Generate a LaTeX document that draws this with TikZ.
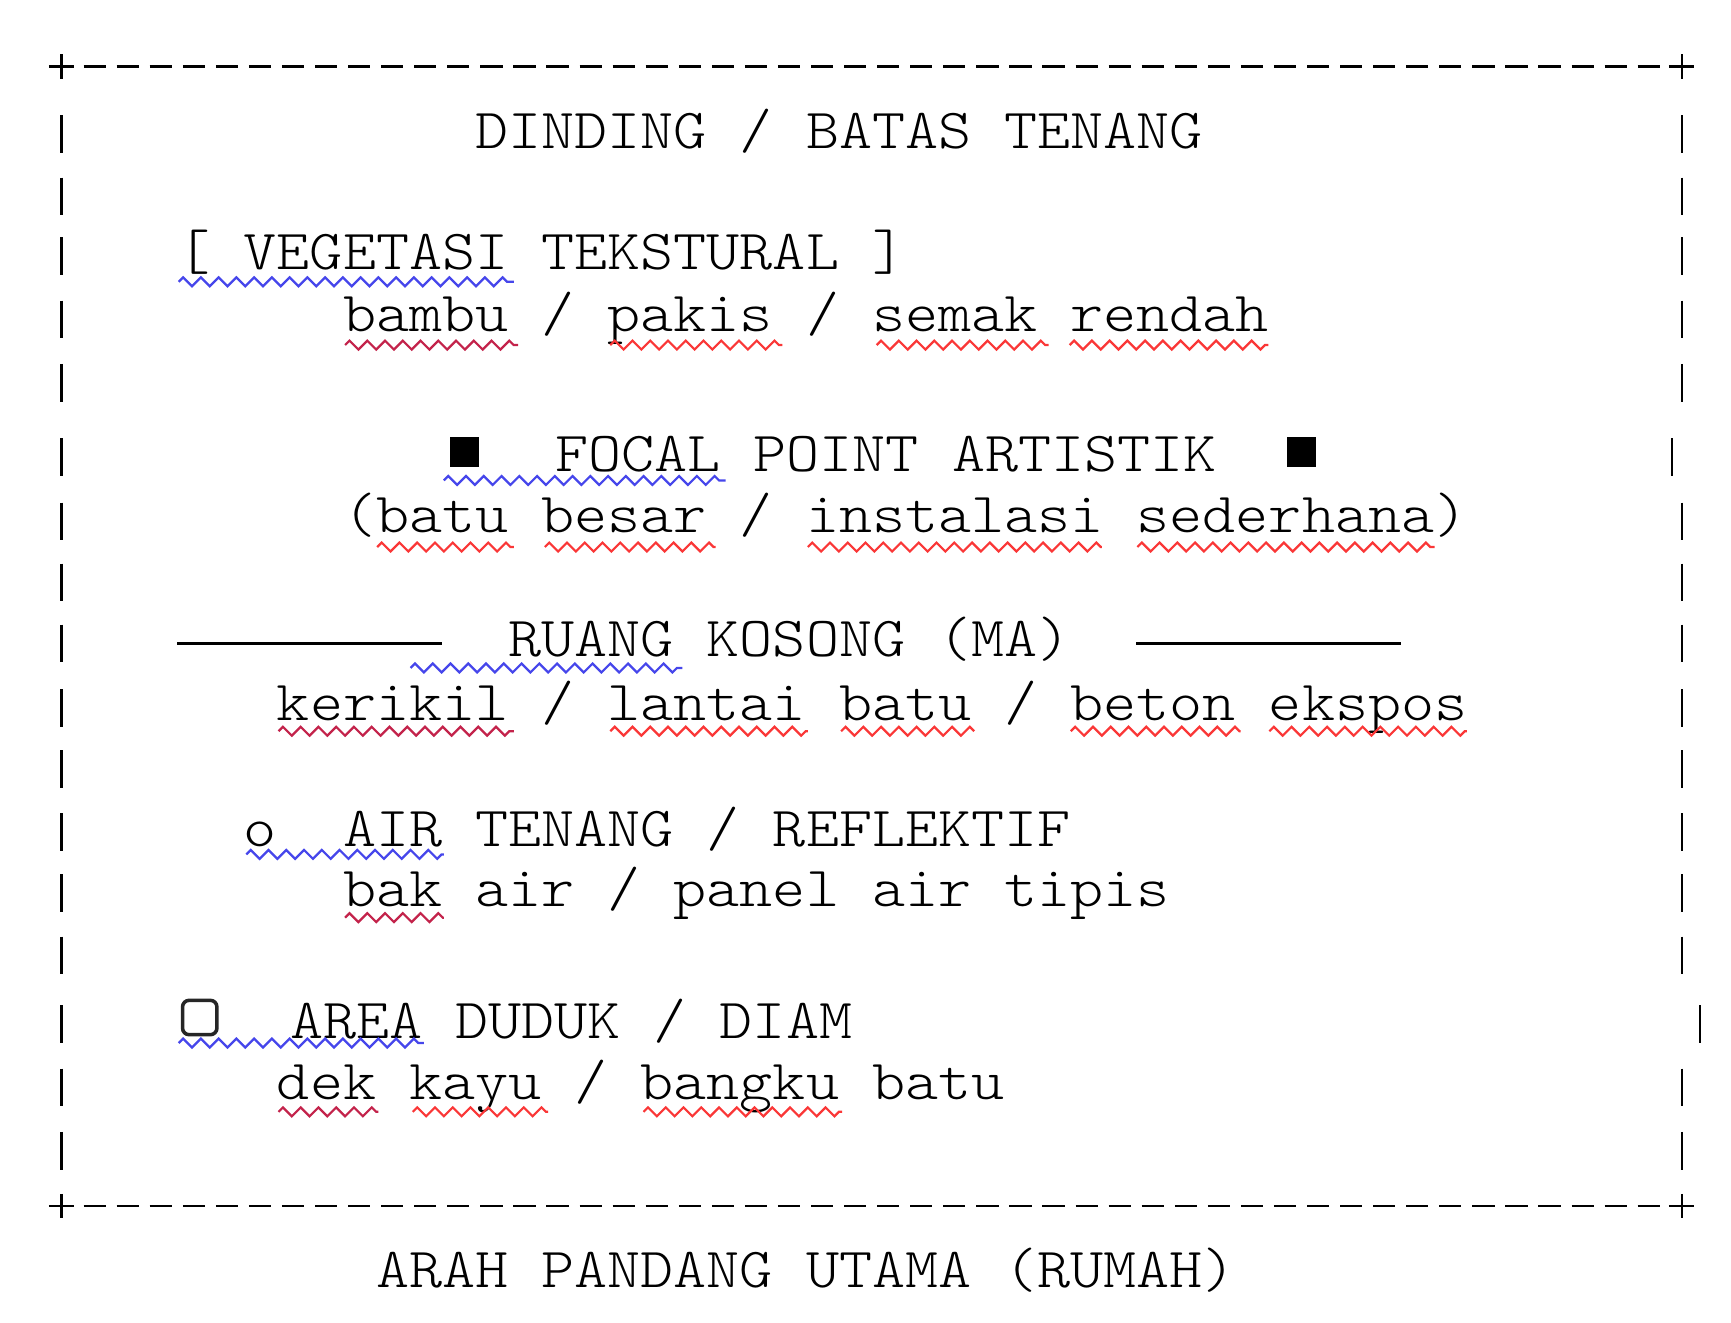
\documentclass[tikz,border=0pt]{standalone}
\usetikzlibrary{decorations.pathmorphing}

\definecolor{gramblue}{RGB}{70,70,235}
\definecolor{ejared}{RGB}{250,55,55}
\definecolor{ejadark}{RGB}{195,35,75}

\newcommand{\mono}{\fontsize{25.5pt}{27pt}\fontseries{l}\ttfamily}
% One line of typewriter text, widened to the cell grid.
\newcommand{\baris}[1]{\scalebox{1.113}[1]{\mono #1}}
% Left edge of a text cell.
\newcommand{\colx}[1]{40.6+29.8*(#1)}

% Wavy spell-check line under a word.
\NewDocumentCommand{\squig}{mmmO{ejared}}{%
\draw[#4,line width=1pt,decorate,decoration={zigzag,segment length=8pt,amplitude=2pt}] (#1,#3) -- (#2,#3);%
}

\tikzset{
  teks/.style={anchor=base west,inner sep=0pt},
  garis/.style={line width=1pt},
  kotak/.style={fill=black,inner sep=0pt,minimum width=13pt,minimum height=13.5pt},
  kursi/.style={draw=black!85,line width=1.6pt,rounded corners=3pt,inner sep=0pt,minimum width=15.5pt,minimum height=15.5pt},
}

\begin{document}
\begin{tikzpicture}[x=0.5pt,y=-0.5pt]
    \useasboundingbox (0,0) rectangle (1560,1192);

    % Frame top and bottom.
    \foreach \y in {60,1087} {
        \draw[garis,dash pattern=on 10pt off 4.9pt] (75.3,\y) -- (1496,\y);
        \draw[garis] (44,\y) -- (67,\y) (55.5,\y-11) -- (55.5,\y+11);
        \draw[garis] (1504,\y) -- (1527,\y) (1515.7,\y-11) -- (1515.7,\y+11);
    }

    % Side bars.
    \foreach \y/\xr in {121/1516,177/1516,231/1516,288/1516,345/1516,412/1507,470/1516,525/1516,580/1516,638/1516,693/1516,750/1516,805/1516,861/1516,923/1532,980/1516,1037/1516} {
        \draw[garis] (55.5,\y-17) -- (55.5,\y+17);
        \draw[garis] (\xr,\y-17) -- (\xr,\y+17);
    }

    % Wall.
    \node[teks] (dinding) at ({\colx{13}},134) {\baris{DINDING / BATAS TENANG}};

    % Vegetation.
    \node[teks] (vegetasi) at ({\colx{4}},243) {\baris{[ VEGETASI TEKSTURAL ]}};
    \node[teks] (tanaman) at ({\colx{9}},299) {\baris{bambu / pakis / semak rendah}};
    \squig{161}{463}{254}[gramblue]
    \squig{311}{467}{311}[ejadark]
    \squig{550}{705}{311}
    \squig{790}{945}{311}
    \squig{964}{1143}{311}

    % Focal point.
    \node[kotak] (kotakkiri) at (418.5,407.5) {};
    \node[teks] (fokal) at (500,425) {\baris{FOCAL POINT ARTISTIK}};
    \node[kotak] (kotakkanan) at (1173,407.5) {};
    \node[teks] (batu) at ({\colx{9}},480) {\baris{(batu besar / instalasi sederhana)}};
    \squig{400}{654}{433}[gramblue]
    \squig{340}{463}{493}
    \squig{491}{645}{493}
    \squig{728}{993}{493}
    \squig{1025}{1293}{493}

    % Empty space.
    \draw[line width=1.2pt] ({\colx{4}},580) -- ({\colx{12}},580);
    \node[teks] (ruang) at ({\colx{14}},592) {\baris{RUANG KOSONG (MA)}};
    \draw[line width=1.2pt] ({\colx{33}},580) -- ({\colx{41}},580);
    \node[teks] (lantai) at ({\colx{7}},649) {\baris{kerikil / lantai batu / beton ekspos}};
    \squig{370}{615}{602}[gramblue]
    \squig{251}{463}{659}[ejadark]
    \squig{550}{728}{659}
    \squig{758}{878}{659}
    \squig{965}{1118}{659}
    \squig{1144}{1322}{659}

    % Water.
    \node[teks] (bulat) at ({\colx{6}},763) {\baris{o}};
    \node[teks] (air) at ({\colx{9}},763) {\baris{AIR TENANG / REFLEKTIF}};
    \node[teks] (bak) at ({\colx{9}},817) {\baris{bak air / panel air tipis}};
    \squig{222}{400}{770}[gramblue]
    \squig{311}{400}{827}[ejadark]

    % Seating.
    \node[kursi] (kursi) at (180,917) {};
    \node[teks] (duduk) at (261,935.7) {\baris{AREA DUDUK / DIAM}};
    \node[teks] (dek) at ({\colx{7}},991) {\baris{dek kayu / bangku batu}};
    \squig{161}{382}{940}[gramblue]
    \squig{251}{341}{1002}[ejadark]
    \squig{372}{494}{1002}
    \squig{580}{759}{1002}

    % View direction.
    \node[teks] (arah) at ({\colx{10}},1160) {\baris{ARAH PANDANG UTAMA (RUMAH)}};
\end{tikzpicture}
\end{document}
